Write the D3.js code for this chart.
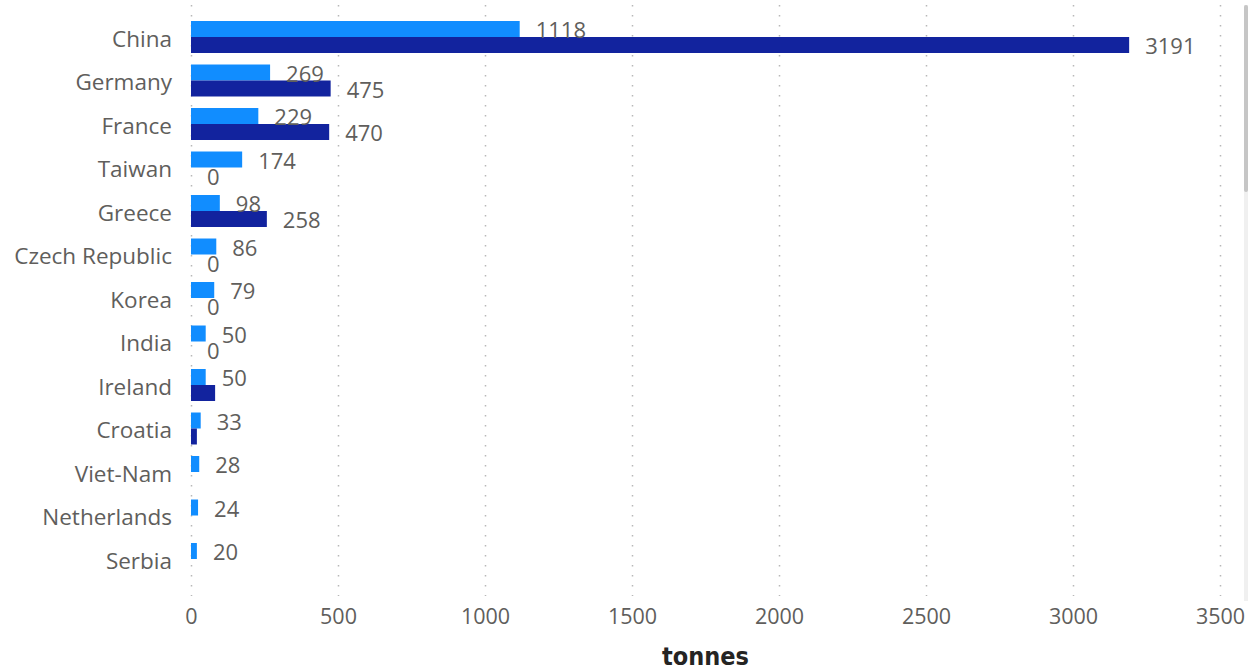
<!DOCTYPE html>
<html><head><meta charset="utf-8">
<script src="https://cdn.jsdelivr.net/npm/d3@7"></script>
<style>
html,body{margin:0;padding:0;background:#fff;overflow:hidden;}
svg{display:block;font-family:"Open Sans","Noto Sans",sans-serif;}
</style></head><body>
<svg id="chart" width="1248" height="670"></svg>
<script>
const categories = ["China","Germany","France","Taiwan","Greece","Czech Republic","Korea","India","Ireland","Croatia","Viet-Nam","Netherlands","Serbia"];
const series = ["light","dark"];
const lightValues = [1118,269,229,174,98,86,79,50,50,33,28,24,20];
const darkValues  = [3191,475,470,0,258,0,0,0,82,20,null,null,null];
const lightLabels = ["1118","269","229","174","98","86","79","50","50","33","28","24","20"];
const darkLabels  = ["3191","475","470","0","258","0","0","0",null,null,null,null,null];
const xTicks = [0,500,1000,1500,2000,2500,3000,3500];
const axisTitle = "tonnes";
const colors = {light:"#118DFF", dark:"#12239E"};

const svg = d3.select("#chart");
const x = d3.scaleLinear().domain([0,3500]).range([191,1220]);
const y0 = d3.scaleBand().domain(categories).range([15.25,580.75]).paddingInner(0).paddingOuter(0);
const y1 = d3.scaleBand().domain(series).range([0,y0.bandwidth()]).paddingInner(0).paddingOuter(0.36);

// gridlines
svg.append("g").selectAll("line").data(xTicks).join("line")
  .attr("x1",d=>x(d)+0.5).attr("x2",d=>x(d)+0.5)
  .attr("y1",5).attr("y2",596)
  .attr("stroke","#b8b8b8").attr("stroke-width",1.5)
  .attr("stroke-dasharray","1.5,8.5");

// x axis
const xAxis = d3.axisBottom(x).tickValues(xTicks).tickSize(0).tickPadding(0).tickFormat(d3.format("d"));
const gx = svg.append("g").attr("transform","translate(0,609)").call(xAxis);
gx.select(".domain").remove();
gx.selectAll("text").attr("fill","#605E5C").attr("font-size",21.5)
  .attr("font-family","'Open Sans','Noto Sans',sans-serif").attr("dy","0.71em");

// y axis
const yAxis = d3.axisLeft(y0).tickSize(0).tickPadding(0);
const gy = svg.append("g").attr("transform","translate(172,2.5)").call(yAxis);
gy.select(".domain").remove();
gy.selectAll("text").attr("fill","#605E5C").attr("font-size",22.5)
  .attr("font-family","'Open Sans','Noto Sans',sans-serif").attr("dy","0.32em");

// bars
const rows = categories.map((c,i)=>({c, vals:[
  {s:"light",v:lightValues[i],lab:lightLabels[i]},
  {s:"dark",v:darkValues[i],lab:darkLabels[i]}]}));
const grp = svg.append("g").selectAll("g").data(rows).join("g")
  .attr("transform",d=>`translate(0,${y0(d.c)})`);
grp.selectAll("rect").data(d=>d.vals.filter(v=>v.v!=null && v.v>0)).join("rect")
  .attr("x",x(0)).attr("y",d=>y1(d.s))
  .attr("width",d=>x(d.v)-x(0)).attr("height",y1.bandwidth())
  .attr("fill",d=>colors[d.s]);
grp.selectAll("text").data(d=>d.vals.filter(v=>v.lab!=null)).join("text")
  .attr("x",d=>x(d.v)+16).attr("y",d=>y1(d.s)+y1.bandwidth()/2+1.5)
  .attr("dy","0.35em").attr("font-size",22).attr("fill","#605E5C")
  .text(d=>d.lab);

// axis title
svg.append("text").attr("x",(x(0)+x(3500))/2).attr("y",665)
  .attr("text-anchor","middle").attr("font-size",25).attr("font-weight","bold")
  .attr("font-family","'DejaVu Sans Condensed','DejaVu Sans',sans-serif")
  .attr("fill","#252423").text(axisTitle);

// scrollbar
svg.append("rect").attr("x",1244).attr("y",5).attr("width",4).attr("height",596).attr("fill","#f0f0f0");
svg.append("rect").attr("x",1244).attr("y",5).attr("width",4).attr("height",187).attr("rx",2).attr("fill","#c6c6c6");
</script></body></html>
